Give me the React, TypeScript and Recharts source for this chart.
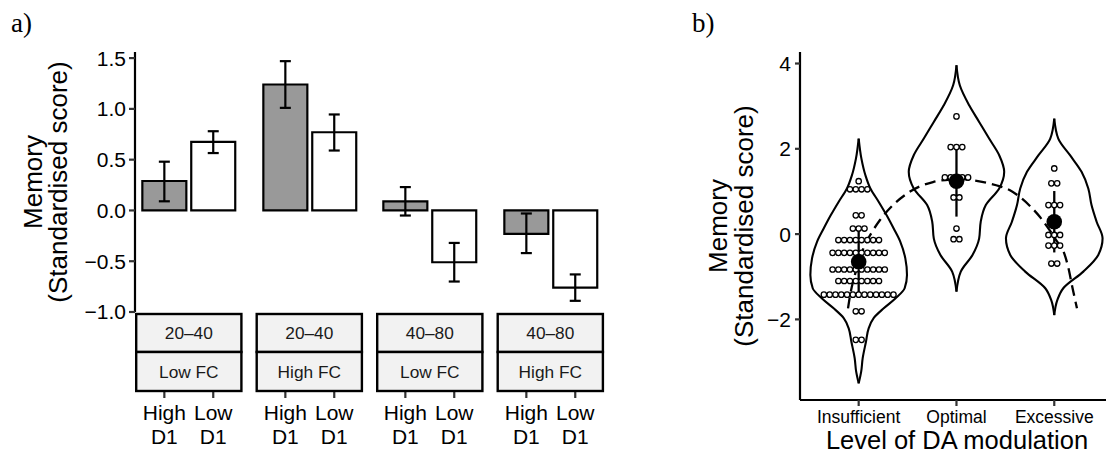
import React from "react";
import {
  BarChart,
  Bar,
  XAxis,
  YAxis,
  ErrorBar,
  Cell,
  ComposedChart,
  Line,
  Scatter,
} from "recharts";

const FONT = '"Liberation Sans", Arial, Helvetica, sans-serif';
const SERIF = '"Liberation Serif", "Times New Roman", serif';

// ---------------- Panel a data ----------------
const facetRange = ["20–40", "20–40", "40–80", "40–80"];
const facetFC = ["Low FC", "High FC", "Low FC", "High FC"];
const d1Groups = ["High D1", "Low D1"];
const highD1Mean = [0.29, 1.24, 0.09, -0.23];
const highD1Lower = [0.09, 1.01, -0.05, -0.42];
const highD1Upper = [0.48, 1.47, 0.23, -0.03];
const lowD1Mean = [0.675, 0.77, -0.51, -0.76];
const lowD1Lower = [0.565, 0.59, -0.7, -0.89];
const lowD1Upper = [0.78, 0.945, -0.32, -0.63];
const barFills = ["#999999", "#ffffff"];
const yTicksA = [-1, -0.5, 0, 0.5, 1, 1.5];

// ---------------- Panel b data ----------------
const daLevels = ["Insufficient", "Optimal", "Excessive"];
const yTicksB = [-2, 0, 2, 4];

// dot-plot bins (value, count)
const insufficientDotValues = [1.24, 1.05, 0.44, 0.13, -0.14, -0.44, -0.83, -1.1, -1.42, -1.81, -2.48];
const insufficientDotCounts = [1, 4, 2, 3, 8, 10, 10, 8, 13, 2, 2];
const optimalDotValues = [2.76, 2.04, 1.33, 0.86, 0.13, -0.12];
const optimalDotCounts = [1, 3, 5, 2, 1, 2];
const excessiveDotValues = [1.54, 1.19, 0.68, -0.02, -0.27, -0.69];
const excessiveDotCounts = [1, 2, 3, 3, 3, 2];

const daMeans = [-0.65, 1.24, 0.29];
const daSpread = [0.77, 0.83, 0.72];

// violin outlines: score levels (top to bottom) and half-widths (category units)
const insufficientViolinLevels = [2.24, 1.77, 1.38, 1.07, 0.76, 0.44, 0.13, -0.18, -0.57, -0.96, -1.27, -1.51, -1.74, -1.97, -2.21, -2.52, -2.91, -3.22, -3.5];
const insufficientViolinHalfWidth = [0, 0.028, 0.069, 0.12, 0.204, 0.286, 0.358, 0.426, 0.477, 0.494, 0.47, 0.375, 0.256, 0.153, 0.102, 0.075, 0.041, 0.026, 0];
const optimalViolinLevels = [3.96, 3.49, 3.02, 2.63, 2.24, 1.85, 1.46, 1.07, 0.68, 0.29, -0.1, -0.49, -0.88, -1.35];
const optimalViolinHalfWidth = [0, 0.034, 0.13, 0.232, 0.334, 0.437, 0.488, 0.437, 0.3, 0.248, 0.232, 0.164, 0.044, 0];
const excessiveViolinLevels = [2.71, 2.24, 1.85, 1.46, 1.07, 0.68, 0.29, -0.1, -0.49, -0.88, -1.27, -1.55, -1.9];
const excessiveViolinHalfWidth = [0, 0.041, 0.161, 0.279, 0.348, 0.381, 0.433, 0.494, 0.45, 0.297, 0.092, 0.031, 0];

// dashed inverted-U fit
const fitX = [0.891, 0.911, 0.962, 1.013, 1.075, 1.136, 1.218, 1.351, 1.494, 1.627, 1.76, 1.934, 2.056, 2.169, 2.312, 2.445, 2.547, 2.649, 2.751, 2.854, 2.956, 3.037, 3.088, 3.14, 3.191, 3.232];
const fitY = [-1.74, -1.45, -0.95, -0.55, -0.2, 0.05, 0.33, 0.68, 0.95, 1.12, 1.22, 1.28, 1.29, 1.26, 1.2, 1.12, 1.03, 0.87, 0.66, 0.4, 0.08, -0.2, -0.37, -0.75, -1.31, -1.74];

// ---------------- Layout constants ----------------
const PLOT_A_LEFT = 135;
const FACET_W = 107.6;
const FACET_STEP = 120.5;
const TOP = 52;
const A_BOTTOM = 312;
const H = 456;
const DOT_STEP = 0.0593;

function facetData(i: number) {
  return [
    {
      d1: d1Groups[0],
      value: highD1Mean[i],
      err: [highD1Mean[i] - highD1Lower[i], highD1Upper[i] - highD1Mean[i]],
    },
    {
      d1: d1Groups[1],
      value: lowD1Mean[i],
      err: [lowD1Mean[i] - lowD1Lower[i], lowD1Upper[i] - lowD1Mean[i]],
    },
  ];
}

const fmtA = (v: number) => (v < 0 ? "−" : "") + Math.abs(v).toFixed(1);
const fmtB = (v: number) => (v < 0 ? "−" : "") + Math.abs(v).toString();

const FacetTick = (props: any) => {
  const { x, payload } = props;
  const parts = String(payload.value).split(" ");
  return (
    <g>
      <line x1={x} x2={x} y1={391.5} y2={398} stroke="#333" strokeWidth={2.2} />
      <text x={x} y={420} textAnchor="middle" fontSize={21} fontFamily={FONT} fill="#000">
        {parts[0]}
      </text>
      <text x={x} y={444} textAnchor="middle" fontSize={21} fontFamily={FONT} fill="#000">
        {parts[1]}
      </text>
    </g>
  );
};

function Facet({ i }: { i: number }) {
  const first = i === 0;
  const yW = first ? PLOT_A_LEFT : 0;
  const left = first ? 0 : PLOT_A_LEFT + i * FACET_STEP;
  const data = facetData(i);
  return (
    <div style={{ position: "absolute", left, top: 0 }}>
      <BarChart
        width={yW + FACET_W}
        height={H}
        data={data}
        margin={{ top: TOP, right: 0, bottom: 0, left: 0 }}
        barCategoryGap="5%"
      >
        <XAxis
          dataKey="d1"
          type="category"
          height={H - A_BOTTOM}
          axisLine={false}
          tickLine={false}
          padding={{ left: 4.9, right: 4.9 }}
          tick={<FacetTick />}
          interval={0}
        />
        <YAxis
          hide={!first}
          width={yW}
          type="number"
          domain={[-1, 1.56]}
          allowDataOverflow
          ticks={yTicksA}
          tickFormatter={fmtA}
          tick={{ fontSize: 21, fill: "#000", fontFamily: FONT }}
          tickSize={6}
          tickMargin={3}
          axisLine={{ stroke: "#000", strokeWidth: 2.2 }}
          tickLine={{ stroke: "#333", strokeWidth: 2.2 }}
        />
        <Bar dataKey="value" isAnimationActive={false} stroke="#000" strokeWidth={2}>
          {data.map((_, k) => (
            <Cell key={k} fill={barFills[k]} stroke="#000" strokeWidth={2.2} />
          ))}
          <ErrorBar dataKey="err" width={5.5} stroke="#000" strokeWidth={2.2} direction="y" />
        </Bar>
      </BarChart>
    </div>
  );
}

function stackDots(center: number, values: number[], counts: number[]) {
  const out: { x: number; y: number }[] = [];
  values.forEach((v, i) => {
    const n = counts[i];
    for (let k = 0; k < n; k++) out.push({ x: center + (k - (n - 1) / 2) * DOT_STEP, y: v });
  });
  return out;
}

function side(center: number, levels: number[], hw: number[], sign: number) {
  return levels.map((y, i) => ({ x: center + sign * hw[i], y }));
}

const violins = [
  { c: 1, levels: insufficientViolinLevels, hw: insufficientViolinHalfWidth },
  { c: 2, levels: optimalViolinLevels, hw: optimalViolinHalfWidth },
  { c: 3, levels: excessiveViolinLevels, hw: excessiveViolinHalfWidth },
];

const dotData = [
  ...stackDots(1, insufficientDotValues, insufficientDotCounts),
  ...stackDots(2, optimalDotValues, optimalDotCounts),
  ...stackDots(3, excessiveDotValues, excessiveDotCounts),
];

const meanData = daMeans.map((m, i) => ({ x: i + 1, y: m, sd: daSpread[i] }));
const fitData = fitX.map((x, i) => ({ x, y: fitY[i] }));

const OpenDot = (p: any) => (
  <circle cx={p.cx} cy={p.cy} r={2.7} fill="#fff" stroke="#000" strokeWidth={1.3} />
);
const MeanDot = (p: any) => <circle cx={p.cx} cy={p.cy} r={7.8} fill="#000" />;

function PanelB() {
  const B_LEFT = 760;
  const B_YW = 40;
  return (
    <div style={{ position: "absolute", left: B_LEFT, top: 0 }}>
      <ComposedChart
        width={1106 - B_LEFT}
        height={H}
        margin={{ top: TOP, right: 0, bottom: 0, left: 0 }}
      >
        <XAxis
          dataKey="x"
          type="number"
          domain={[0.4, 3.529]}
          allowDataOverflow
          ticks={[1, 2, 3]}
          tickFormatter={(v: number) => daLevels[v - 1]}
          height={56}
          tick={{ fontSize: 17.5, fill: "#000", fontFamily: FONT }}
          tickSize={6}
          tickMargin={5}
          axisLine={{ stroke: "#000", strokeWidth: 2.2 }}
          tickLine={{ stroke: "#333", strokeWidth: 2.2 }}
          interval={0}
        />
        <YAxis
          dataKey="y"
          type="number"
          width={B_YW}
          domain={[-3.89, 4.27]}
          allowDataOverflow
          ticks={yTicksB}
          tickFormatter={fmtB}
          tick={{ fontSize: 21, fill: "#000", fontFamily: FONT }}
          tickSize={5}
          tickMargin={4}
          axisLine={{ stroke: "#000", strokeWidth: 2.2 }}
          tickLine={{ stroke: "#333", strokeWidth: 2.2 }}
        />
        {violins.map((v) => (
          <Line
            key={"r" + v.c}
            data={side(v.c, v.levels, v.hw, 1)}
            dataKey="y"
            type="monotoneY"
            stroke="#000"
            strokeWidth={2.1}
            dot={false}
            activeDot={false}
            isAnimationActive={false}
          />
        ))}
        {violins.map((v) => (
          <Line
            key={"l" + v.c}
            data={side(v.c, v.levels, v.hw, -1)}
            dataKey="y"
            type="monotoneY"
            stroke="#000"
            strokeWidth={2.1}
            dot={false}
            activeDot={false}
            isAnimationActive={false}
          />
        ))}
        <Line
          data={fitData}
          dataKey="y"
          type="monotone"
          stroke="#000"
          strokeWidth={2.3}
          strokeDasharray="11 6"
          dot={false}
          activeDot={false}
          isAnimationActive={false}
        />
        <Scatter data={dotData} dataKey="y" shape={<OpenDot />} isAnimationActive={false} />
        <Scatter data={meanData} dataKey="y" shape={<MeanDot />} isAnimationActive={false}>
          <ErrorBar dataKey="sd" direction="y" width={0} stroke="#000" strokeWidth={2.3} />
        </Scatter>
      </ComposedChart>
    </div>
  );
}

function Overlay() {
  return (
    <svg
      width={1106}
      height={456}
      style={{ position: "absolute", left: 0, top: 0, pointerEvents: "none" }}
    >
      <text x={11} y={32} fontFamily={SERIF} fontSize={27} fill="#000">a)</text>
      <text x={692} y={32} fontFamily={SERIF} fontSize={27} fill="#000">b)</text>

      <g fontFamily={FONT} fontSize={26} fill="#000" textAnchor="middle">
        <text transform="translate(41.7,182) rotate(-90)">Memory</text>
        <text transform="translate(66.5,182) rotate(-90)">(Standardised score)</text>
        <text transform="translate(727,226) rotate(-90)">Memory</text>
        <text transform="translate(753,226) rotate(-90)">(Standardised score)</text>
      </g>
      <text x={957} y={449} fontFamily={FONT} fontSize={25.5} fill="#000" textAnchor="middle">
        Level of DA modulation
      </text>

      {facetRange.map((r, i) => {
        const x = PLOT_A_LEFT + i * FACET_STEP;
        return (
          <g key={i}>
            <rect x={x + 1.2} y={314} width={FACET_W - 2.4} height={38} fill="#f2f2f2" stroke="#000" strokeWidth={2.4} />
            <rect x={x + 1.2} y={352} width={FACET_W - 2.4} height={39} fill="#f2f2f2" stroke="#000" strokeWidth={2.4} />
            <text x={x + FACET_W / 2} y={339} textAnchor="middle" fontFamily={FONT} fontSize={17.3} fill="#1a1a1a">{r}</text>
            <text x={x + FACET_W / 2} y={378} textAnchor="middle" fontFamily={FONT} fontSize={17.3} fill="#1a1a1a">{facetFC[i]}</text>
          </g>
        );
      })}
    </svg>
  );
}

export default function App() {
  return (
    <div
      style={{
        position: "absolute",
        left: 0,
        top: 0,
        width: 1106,
        height: 456,
        overflow: "hidden",
        background: "#fff",
        fontFamily: FONT,
      }}
    >
      {[0, 1, 2, 3].map((i) => (
        <Facet key={i} i={i} />
      ))}
      <PanelB />
      <Overlay />
    </div>
  );
}
